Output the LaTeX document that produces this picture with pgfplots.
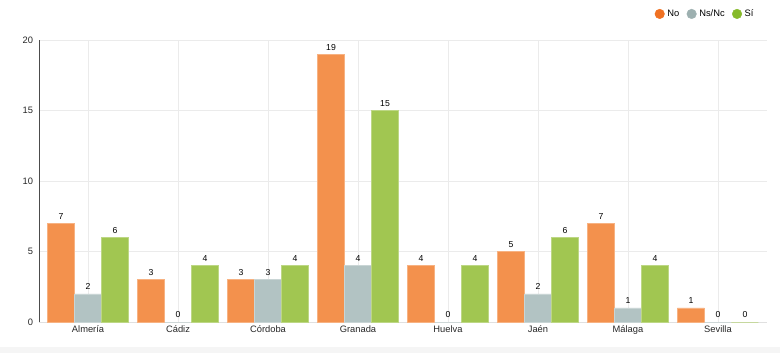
\documentclass[border=0pt]{standalone}
\usepackage{pgfplots}
\pgfplotsset{compat=1.18}
\usepackage{fontspec}
\setmainfont{Liberation Sans}
\definecolor{cNo}{HTML}{F3914D}
\definecolor{cNs}{HTML}{B2C3C3}
\definecolor{cSi}{HTML}{A1C651}
\definecolor{lNo}{HTML}{F07122}
\definecolor{lNs}{HTML}{9DB0B0}
\definecolor{lSi}{HTML}{86BA2A}
\begin{document}
\begin{tikzpicture}
\begin{axis}[
  scale only axis,
  width=546pt, height=211.5pt,
  ybar=0pt, bar width=0.3,
  xmin=-0.545, xmax=7.545,
  ymin=0, ymax=20,
  ytick={0,5,10,15,20},
  xtick={0,...,7},
  xticklabels={Almería,Cádiz,Córdoba,Granada,Huelva,Jaén,Málaga,Sevilla},
  xmajorgrids, ymajorgrids,
  grid style={draw=black!8, line width=0.6pt},
  axis x line*=bottom, axis y line*=left,
  x axis line style={draw=black!12, -},
  y axis line style={draw=black!70, -},
  major tick length=0pt,
  ytick style={draw=none}, xtick style={draw=none},
  tick label style={font=\fontsize{7}{8}\selectfont, text=black!85},
  /pgf/number format/assume math mode=true,
  yticklabel style={xshift=-1pt},
  xticklabel style={yshift=1pt},
  nodes near coords,
  every node near coord/.append style={font=\fontsize{6.5}{7}\selectfont, text=black, yshift=-0.5pt},
  legend style={at={(0.991,1.128)}, anchor=north east, draw=none, fill=none,
    legend columns=-1, font=\fontsize{7}{8}\selectfont,
    /tikz/every even column/.append style={column sep=3.5pt}},
  legend image code/.code={\fill[#1] (0.15cm,0pt) circle (3.6pt);},
]
\addplot[fill=cNo, draw=cNo!70!white, line width=0.3pt, legend image code/.code={\fill[lNo] (0.15cm,0pt) circle (3.6pt);}] coordinates {(0,7) (1,3) (2,3) (3,19) (4,4) (5,5) (6,7) (7,1)};
\addplot[fill=cNs, draw=cNs!70!white, line width=0.3pt, legend image code/.code={\fill[lNs] (0.15cm,0pt) circle (3.6pt);}] coordinates {(0,2) (1,0) (2,3) (3,4) (4,0) (5,2) (6,1) (7,0)};
\addplot[fill=cSi, draw=cSi!70!white, line width=0.3pt, legend image code/.code={\fill[lSi] (0.15cm,0pt) circle (3.6pt);}] coordinates {(0,6) (1,4) (2,4) (3,15) (4,4) (5,6) (6,4) (7,0)};
\legend{No,Ns/Nc,Sí}
\coordinate (O) at (rel axis cs:0,0);
\end{axis}
\fill[black!4] ([shift={(-29.25pt,-23.25pt)}]O) rectangle ([shift={(555.75pt,-19pt)}]O);
\path[use as bounding box] ([shift={(-29.25pt,-23.25pt)}]O) rectangle ([shift={(555.75pt,241.5pt)}]O);
\end{tikzpicture}
\end{document}
